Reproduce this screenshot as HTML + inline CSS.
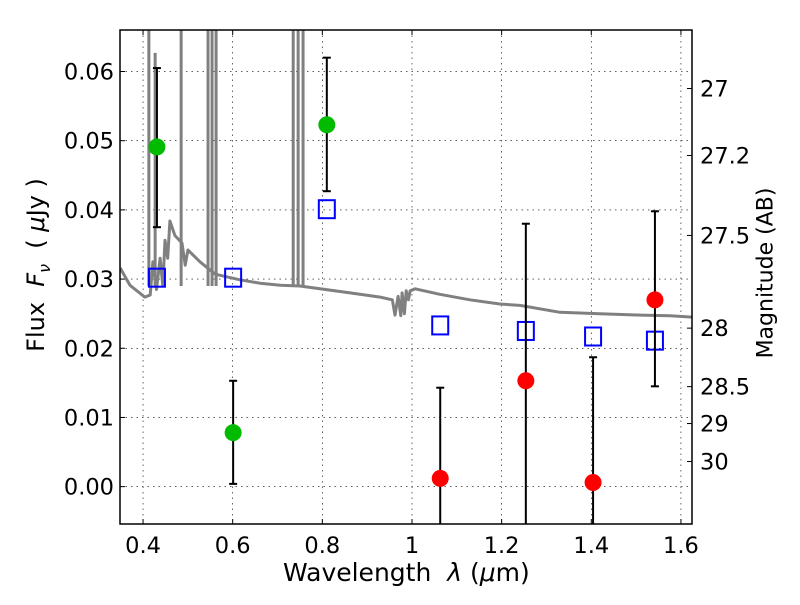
<!DOCTYPE html>
<html><head><meta charset="utf-8"><style>
body{margin:0;background:#fff}
svg text{font-family:"DejaVu Sans","Liberation Sans",sans-serif;fill:#000}
</style></head><body>
<svg id="c" width="800" height="600" xmlns="http://www.w3.org/2000/svg"></svg>
<script>
const specWl=[0.349,0.371,0.404,0.416,0.422,0.430,0.438,0.444,0.449,0.455,0.46,0.471,0.487,0.494,0.500,0.527,0.561,0.616,0.661,0.706,0.750,0.817,0.862,0.929,0.956,0.962,0.969,0.975,0.978,0.983,0.987,0.992,0.996,1.007,1.062,1.129,1.196,1.241,1.330,1.419,1.509,1.576,1.625];
const specFlux=[0.0316,0.0291,0.0274,0.0277,0.0325,0.0285,0.0330,0.0290,0.0356,0.0330,0.0384,0.0363,0.0352,0.0320,0.0342,0.0325,0.0307,0.0299,0.0294,0.0291,0.0290,0.0284,0.0280,0.0274,0.0270,0.0248,0.0275,0.0247,0.0280,0.0250,0.0283,0.0270,0.0283,0.0286,0.0278,0.0270,0.0264,0.0262,0.0252,0.0250,0.0248,0.0247,0.0245];
const lineWl=[0.413,0.427,0.485,0.545,0.554,0.563,0.735,0.746,0.757];
const lineTop=[0.07,0.0627,0.07,0.07,0.07,0.07,0.07,0.07,0.07];
const detWl=[0.431,0.601,0.810];
const detFlux=[0.0491,0.0078,0.0523];
const detHi=[0.0605,0.0153,0.0620];
const detLo=[0.0375,0.0004,0.0427];
const ndWl=[1.063,1.254,1.404,1.542];
const ndFlux=[0.0012,0.0153,0.0006,0.0270];
const ndHi=[0.0143,0.0380,0.0187,0.0398];
const ndLo=[-0.01,-0.01,-0.01,0.0145];
const modWl=[0.431,0.601,0.810,1.063,1.254,1.404,1.542];
const modFlux=[0.0302,0.0302,0.0401,0.0233,0.0225,0.0217,0.0211];
const xTicks=[0.4,0.6,0.8,1,1.2,1.4,1.6];
const xTickLabels=["0.4","0.6","0.8","1","1.2","1.4","1.6"];
const yTicks=[0,0.01,0.02,0.03,0.04,0.05,0.06];
const yTickLabels=["0.00","0.01","0.02","0.03","0.04","0.05","0.06"];
const magTicks=[27,27.2,27.5,28,28.5,29,30];
const magLabels=["27","27.2","27.5","28","28.5","29","30"];

const L=120,R=692,T=30,B=524,X0=0.3486,X1=1.6247,Y0=-0.0054,Y1=0.066;
const sx=v=>L+(v-X0)/(X1-X0)*(R-L);
const sy=v=>B-(v-Y0)/(Y1-Y0)*(B-T);
const svg=document.getElementById('c');
const NS='http://www.w3.org/2000/svg';
function el(tag,attrs,parent){const e=document.createElementNS(NS,tag);for(const k in attrs)e.setAttribute(k,attrs[k]);(parent||svg).appendChild(e);return e;}
const defs=el('defs',{});const cp=el('clipPath',{id:'clip'},defs);el('rect',{x:L,y:T,width:R-L,height:B-T},cp);

xTicks.forEach((v,i)=>{
  const g=el('line',{x1:sx(v),x2:sx(v),y1:T,y2:B,stroke:'#000','stroke-width':0.6,'stroke-dasharray':'1.5,4'});
  
  el('line',{x1:sx(v),x2:sx(v),y1:B,y2:B-5,stroke:'#000'});
  el('line',{x1:sx(v),x2:sx(v),y1:T,y2:T+5,stroke:'#000'});
  const t=el('text',{x:sx(v),y:B+29,'text-anchor':'middle','font-size':22.5});t.textContent=xTickLabels[i];
  
});
yTicks.forEach((v,i)=>{
  const g=el('line',{x1:L,x2:R,y1:sy(v),y2:sy(v),stroke:'#000','stroke-width':0.6,'stroke-dasharray':'1.5,4'});
  
  el('line',{x1:L,x2:L+5,y1:sy(v),y2:sy(v),stroke:'#000'});
  const t=el('text',{x:L-6,y:sy(v)+8,'text-anchor':'end','font-size':22.5});t.textContent=yTickLabels[i];
  
});
magTicks.forEach((m,i)=>{
  const f=Math.pow(10,(23.9-m)/2.5);
  el('line',{x1:R,x2:R-5,y1:sy(f),y2:sy(f),stroke:'#000'});
  const t=el('text',{x:R+8,y:sy(f)+8,'font-size':22.5});t.textContent=magLabels[i];
  
});
const g=el('g',{'clip-path':'url(#clip)'});
let d=specWl.map((w,i)=>(i?'L':'M')+sx(w).toFixed(1)+','+sy(specFlux[i]).toFixed(1)).join('');
const sp=el('path',{d:d,fill:'none',stroke:'#808080','stroke-width':3,'stroke-linejoin':'round'},g);

lineWl.forEach((w,i)=>{
  const l=el('line',{x1:sx(w),x2:sx(w),y1:sy(0.029),y2:sy(lineTop[i]),stroke:'#808080','stroke-width':3},g);
  
});
function errbar(x,lo,hi){
  el('line',{x1:sx(x),x2:sx(x),y1:sy(lo),y2:sy(hi),stroke:'#000','stroke-width':2},g);
  el('line',{x1:sx(x)-4,x2:sx(x)+4,y1:sy(hi),y2:sy(hi),stroke:'#000','stroke-width':2},g);
  el('line',{x1:sx(x)-4,x2:sx(x)+4,y1:sy(lo),y2:sy(lo),stroke:'#000','stroke-width':2},g);
}
modWl.forEach((w,i)=>{
  const r=el('rect',{x:sx(w)-8,y:sy(modFlux[i])-9,width:16,height:18,fill:'none',stroke:'#0000ff','stroke-width':2},g);
  
});
detWl.forEach((w,i)=>{
  errbar(w,detLo[i],detHi[i]);
  const c=el('circle',{cx:sx(w),cy:sy(detFlux[i]),r:8.5,fill:'#00bb00'},g);
  
});
ndWl.forEach((w,i)=>{
  errbar(w,ndLo[i],ndHi[i]);
  const c=el('circle',{cx:sx(w),cy:sy(ndFlux[i]),r:8.5,fill:'#ff0000'},g);
  
});
const fr=el('rect',{x:L,y:T,width:R-L,height:B-T,fill:'none',stroke:'#000','stroke-width':1.5});

</script>
<div style="position:absolute;left:283px;top:558px;font:25px 'DejaVu Sans','Liberation Sans',sans-serif">Wavelength&nbsp; <i>λ</i> (<i>μ</i>m)</div>
<div style="position:absolute;left:38px;top:265px;transform:translate(-50%,-50%) rotate(-90deg);white-space:nowrap;font:24px 'DejaVu Sans','Liberation Sans',sans-serif">Flux&nbsp; <i>F<sub style="font-size:16px">ν</sub></i>&nbsp; ( <i>μ</i>Jy )</div>
<div style="position:absolute;left:766px;top:273px;transform:translate(-50%,-50%) rotate(-90deg);white-space:nowrap;font:22px 'DejaVu Sans','Liberation Sans',sans-serif">Magnitude (AB)</div>
</body></html>
